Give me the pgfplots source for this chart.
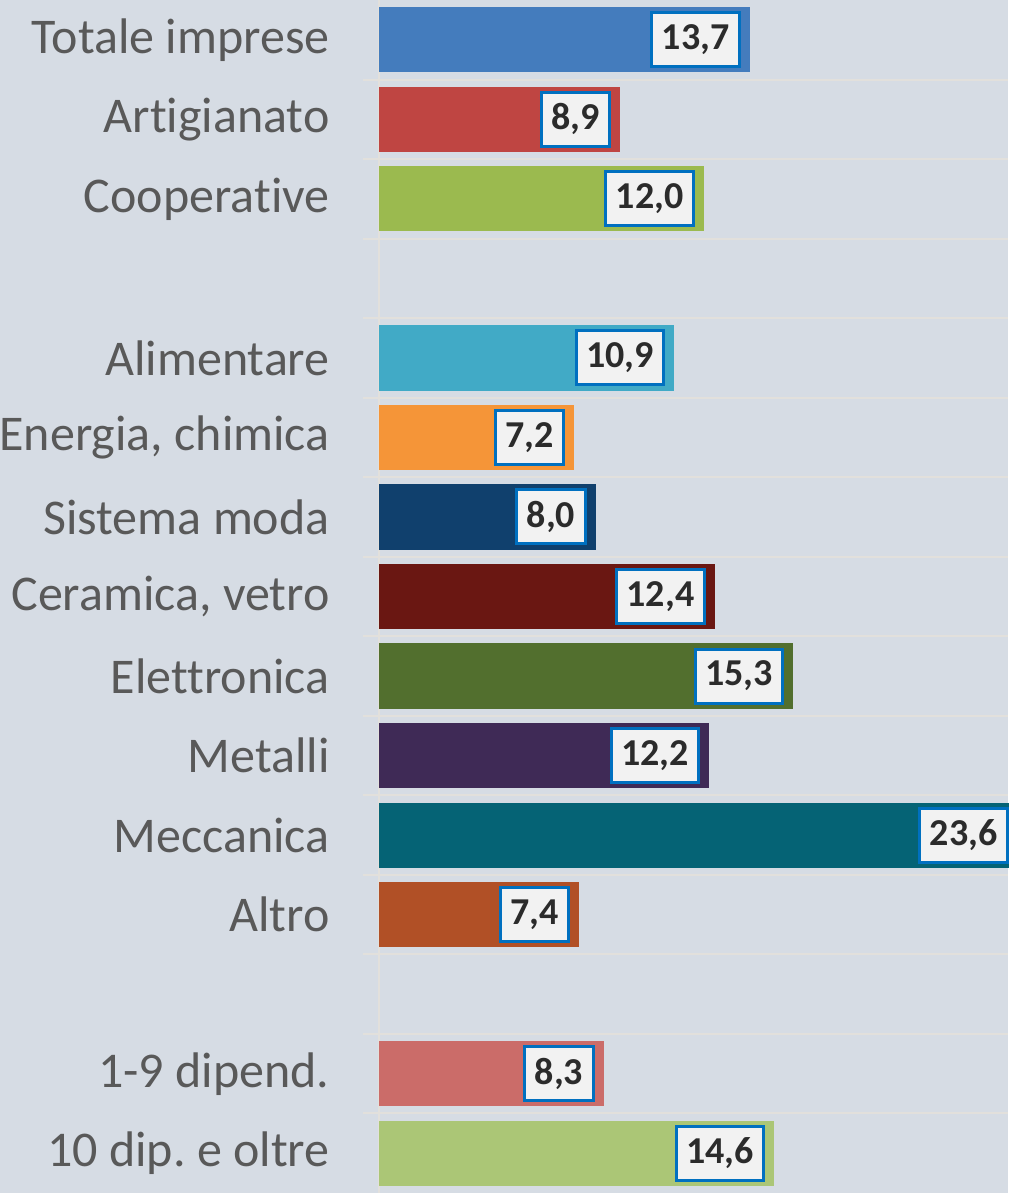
\documentclass[border=0pt]{standalone}
\usepackage{pgfplots}
\pgfplotsset{compat=1.18}
\usepackage{fontspec}
\setmainfont{Carlito}[Ligatures=NoCommon]
\frenchspacing
\definecolor{bg}{HTML}{D6DCE4}
\definecolor{gridc}{HTML}{E2E0DC}
\definecolor{labc}{HTML}{595959}
\definecolor{numc}{HTML}{2B2B2B}
\definecolor{boxfill}{HTML}{F2F2F2}
\definecolor{boxdraw}{HTML}{0070C0}
\definecolor{c1}{HTML}{447CBD}
\definecolor{c2}{HTML}{BF4542}
\definecolor{c3}{HTML}{9BBA4F}
\definecolor{c4}{HTML}{41AAC6}
\definecolor{c5}{HTML}{F59538}
\definecolor{c6}{HTML}{10406D}
\definecolor{c7}{HTML}{6A1712}
\definecolor{c8}{HTML}{526F2E}
\definecolor{c9}{HTML}{3F2A56}
\definecolor{c10}{HTML}{056375}
\definecolor{c11}{HTML}{B15026}
\definecolor{c12}{HTML}{CB6C69}
\definecolor{c13}{HTML}{ABC676}
\begin{document}
\frenchspacing
\begin{tikzpicture}
\fill[bg] (-189.5pt,0) rectangle (314.5pt,596.5pt);
\begin{axis}[
  xbar,
  at={(0,0)}, anchor=south west,
  scale only axis, width=314.5pt, height=596.5pt,
  xmin=0, xmax=23.23, ymin=-0.5, ymax=14.5, y dir=reverse,
  clip=false,
  bar width=0.82, bar shift=0pt,
  axis x line=none,
  axis y line*=left,
  axis line style={gridc, line width=1pt},
  ytick={0,...,14},
  yticklabels={Totale imprese, Artigianato, Cooperative, , Alimentare, {Energia, chimica}, Sistema moda, {Ceramica, vetro}, Elettronica, Metalli, Meccanica, Altro, , 1-9 dipend., {10 dip.\ e oltre}},
  major tick length=0pt,
  minor ytick={0.5,1.5,...,13.5},
  minor tick length=8pt, tick align=outside,
  minor tick style={gridc, line width=1pt},
  yminorgrids, minor grid style={gridc, line width=1pt},
  yticklabel style={font=\fontsize{25}{30}\selectfont, text=labc, inner sep=0pt, anchor=east, xshift=-24.5pt},
  nodes near coords, point meta=explicit symbolic,
  every node near coord/.append style={anchor=east, xshift=-4.5pt, fill=boxfill, draw=boxdraw, line width=1.5pt, text=numc, font=\fontsize{19}{22}\bfseries\selectfont, minimum height=27pt, inner xsep=5pt, inner ysep=0pt},
]
\addplot[fill=c1, draw=none] coordinates {(13.7,0) [13{,}7]};
\addplot[fill=c2, draw=none] coordinates {(8.9,1) [8{,}9]};
\addplot[fill=c3, draw=none] coordinates {(12.0,2) [12{,}0]};
\addplot[fill=c4, draw=none] coordinates {(10.9,4) [10{,}9]};
\addplot[fill=c5, draw=none] coordinates {(7.2,5) [7{,}2]};
\addplot[fill=c6, draw=none] coordinates {(8.0,6) [8{,}0]};
\addplot[fill=c7, draw=none] coordinates {(12.4,7) [12{,}4]};
\addplot[fill=c8, draw=none] coordinates {(15.3,8) [15{,}3]};
\addplot[fill=c9, draw=none] coordinates {(12.2,9) [12{,}2]};
\addplot[fill=c10, draw=none] coordinates {(23.6,10) [23{,}6]};
\addplot[fill=c11, draw=none] coordinates {(7.4,11) [7{,}4]};
\addplot[fill=c12, draw=none] coordinates {(8.3,13) [8{,}3]};
\addplot[fill=c13, draw=none] coordinates {(14.6,14) [14{,}6]};
\end{axis}
\pgfresetboundingbox
\useasboundingbox (-189.5pt,0) rectangle (314.5pt,596.5pt);
\end{tikzpicture}
\end{document}
